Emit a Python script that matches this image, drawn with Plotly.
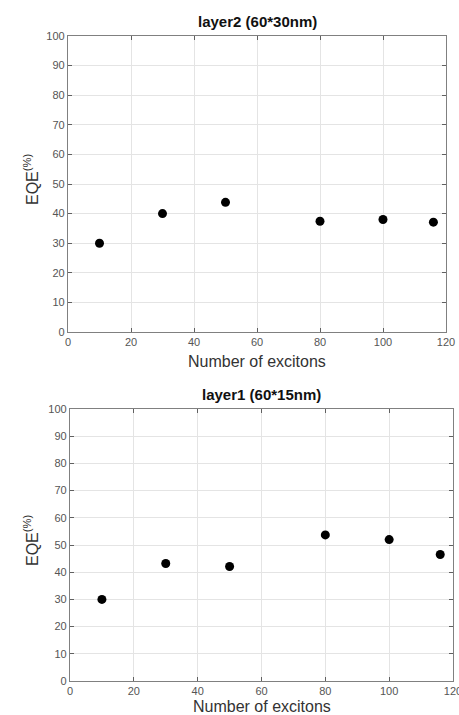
import plotly.graph_objects as go
from plotly.subplots import make_subplots

# layer 2 (top panel)
excitons_l2 = [10, 30, 50, 80, 100, 116]
eqe_l2 = [30.0, 40.0, 43.8, 37.4, 38.0, 37.1]

# layer 1 (bottom panel)
excitons_l1 = [10, 30, 50, 80, 100, 116]
eqe_l1 = [30.0, 43.2, 42.1, 53.7, 52.0, 46.5]

titles = ["layer2 (60*30nm)", "layer1 (60*15nm)"]
xticks = [0, 20, 40, 60, 80, 100, 120]
yticks = [0, 10, 20, 30, 40, 50, 60, 70, 80, 90, 100]

W, H = 459, 715
FONT = "Liberation Sans, Arial, sans-serif"

fig = make_subplots(rows=2, cols=1)

for i, (xs, ys) in enumerate([(excitons_l2, eqe_l2), (excitons_l1, eqe_l1)], start=1):
    fig.add_trace(go.Scatter(
        x=xs, y=ys, mode="markers",
        marker=dict(color="black", size=9, symbol="circle"),
        showlegend=False,
    ), row=i, col=1)

# panel geometry in pixels (left, right, top, bottom)
panels = [(68, 446, 36, 332), (70, 453, 409, 681)]
xlabel_gap = [29, 25]

axis_style = dict(
    showline=True, linecolor="#808080", linewidth=1.2, mirror="ticks",
    ticks="inside", ticklen=4, tickcolor="#606060",
    showgrid=True, gridcolor="#e4e4e4", gridwidth=1,
    zeroline=False, automargin=False, ticklabeloverflow="allow",
    tickfont=dict(family=FONT, size=11, color="#555555"),
)

for i, (l, r, t, b) in enumerate(panels, start=1):
    xa = "xaxis" if i == 1 else f"xaxis{i}"
    ya = "yaxis" if i == 1 else f"yaxis{i}"
    fig.update_layout(**{
        xa: dict(domain=[l / W, r / W], range=[0, 120], tickvals=xticks, **axis_style),
        ya: dict(domain=[1 - b / H, 1 - t / H], range=[0, 100], tickvals=yticks, **axis_style),
    })
    cx = (l + r) / 2 / W
    # title
    fig.add_annotation(
        text=f"<b>{titles[i - 1]}</b>", x=cx, y=1 - (t - 15) / H,
        xref="paper", yref="paper", showarrow=False, yanchor="middle",
        font=dict(family=FONT, size=15, color="#111111"),
    )
    # x label
    fig.add_annotation(
        text="Number of excitons", x=cx, y=1 - (b + xlabel_gap[i - 1]) / H,
        xref="paper", yref="paper", showarrow=False, yanchor="middle",
        font=dict(family=FONT, size=16, color="#333333"),
    )
    # y label
    fig.add_annotation(
        text="EQE<sup>(%)</sup>", x=31 / W, y=1 - ((t + b) / 2 - 4) / H,
        xref="paper", yref="paper", showarrow=False, textangle=-90,
        xanchor="center", yanchor="middle",
        font=dict(family=FONT, size=16, color="#333333"),
    )

fig.update_layout(
    width=W, height=H,
    margin=dict(l=0, r=0, t=0, b=0),
    paper_bgcolor="white", plot_bgcolor="white",
)

fig.write_html(
    "out.html",
    config={"displayModeBar": False},
    post_script="document.body.style.margin='0';document.body.style.overflow='hidden';",
)
